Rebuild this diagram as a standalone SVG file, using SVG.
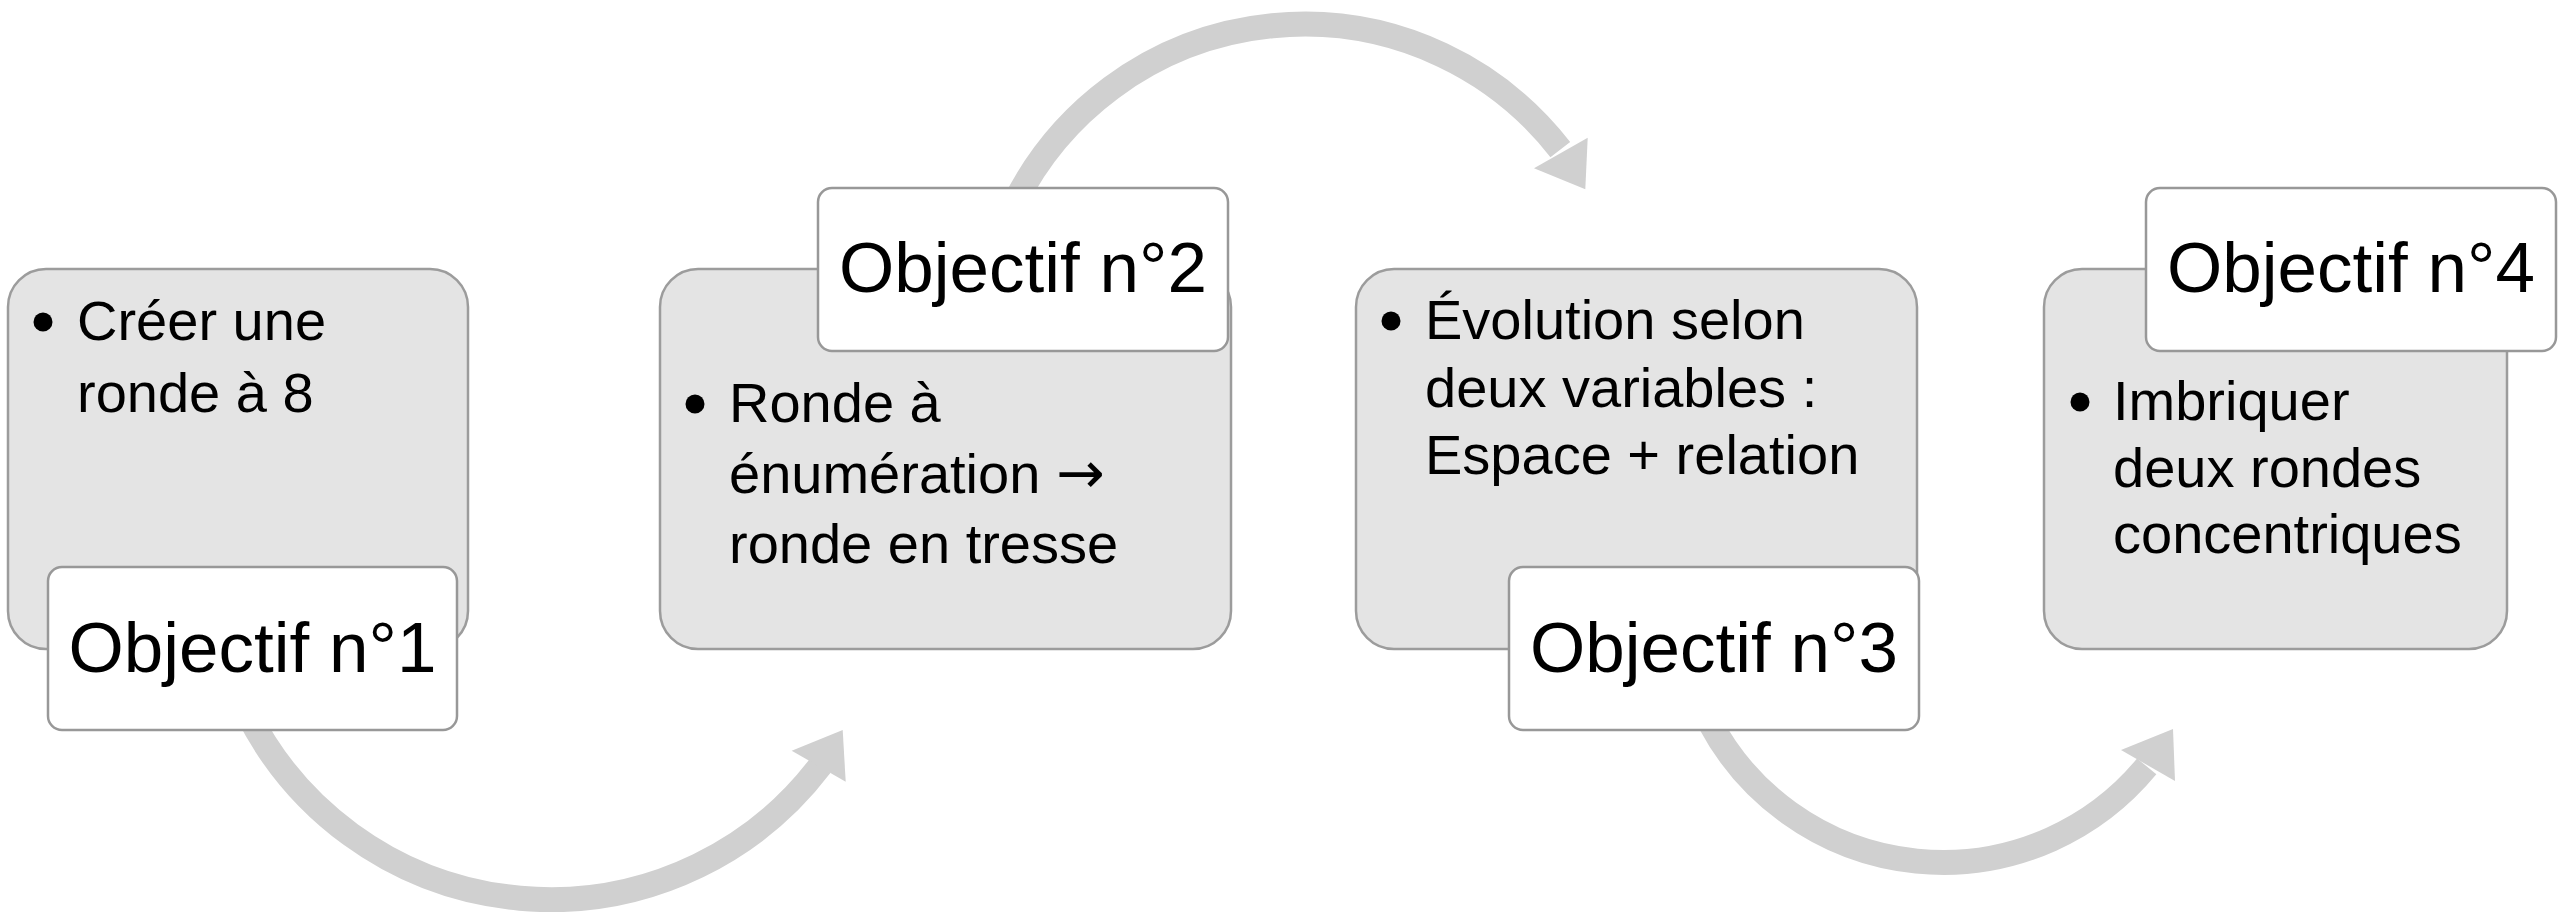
<svg xmlns="http://www.w3.org/2000/svg" width="2560" height="912" viewBox="0 0 2560 912">
<style>
.box{fill:#e4e4e4;stroke:#9c9c9c;stroke-width:2.5}
.lbl{fill:#ffffff;stroke:#989898;stroke-width:2.5}
.body{font-family:"Liberation Sans",Arial,sans-serif;font-size:56px;fill:#000}
.arr{font-family:"DejaVu Sans",sans-serif;font-size:58px}
.title{font-family:"Liberation Sans",Arial,sans-serif;font-size:71px;fill:#000;text-anchor:middle}
.bul{fill:#000}
.arc{fill:none;stroke:#d0d0d0;stroke-width:25;stroke-linecap:butt}
.head{fill:#d0d0d0}
</style>
<rect width="2560" height="912" fill="#ffffff"/>
<g id="connectors">
  <path class="arc" d="M 248.0 713.9 A 339 339 0 0 0 820.6 765.3"/>
  <polygon class="head" points="791.7,750.7 842.7,730 845.7,781.7"/>
  <path class="arc" d="M 1014.3 203.6 A 324 324 0 0 1 1560.3 149.6"/>
  <polygon class="head" points="1587.7,137.7 1585.3,189.3 1534,168.3"/>
  <path class="arc" d="M 1709.9 722.4 A 264 264 0 0 0 2146.7 766.4"/>
  <polygon class="head" points="2121,750 2173,729 2175,781"/>
</g>
<g id="node1">
  <rect class="box" x="8" y="269" width="460" height="380" rx="38"/>
  <circle class="bul" cx="43" cy="322" r="9.5"/>
  <text class="body" x="77" y="340">Créer une</text>
  <text class="body" x="77" y="412">ronde à 8</text>
  <rect class="lbl" x="48" y="567" width="409" height="163" rx="14"/>
  <text class="title" x="252.5" y="672">Objectif n°1</text>
</g>
<g id="node2">
  <rect class="box" x="660" y="269" width="571" height="380" rx="38"/>
  <circle class="bul" cx="695" cy="404" r="9.5"/>
  <text class="body" x="729" y="422">Ronde à</text>
  <text class="body" x="729" y="493">énumération <tspan class="arr">→</tspan></text>
  <text class="body" x="729" y="563">ronde en tresse</text>
  <rect class="lbl" x="818" y="188" width="410" height="163" rx="14"/>
  <text class="title" x="1023" y="292">Objectif n°2</text>
</g>
<g id="node3">
  <rect class="box" x="1356" y="269" width="561" height="380" rx="38"/>
  <circle class="bul" cx="1391" cy="321" r="9.5"/>
  <text class="body" x="1425" y="339">Évolution selon</text>
  <text class="body" x="1425" y="407">deux variables :</text>
  <text class="body" x="1425" y="474">Espace + relation</text>
  <rect class="lbl" x="1509" y="567" width="410" height="163" rx="14"/>
  <text class="title" x="1714" y="672">Objectif n°3</text>
</g>
<g id="node4">
  <rect class="box" x="2044" y="269" width="463" height="380" rx="38"/>
  <circle class="bul" cx="2080" cy="402" r="9.5"/>
  <text class="body" x="2113" y="420">Imbriquer</text>
  <text class="body" x="2113" y="487">deux rondes</text>
  <text class="body" x="2113" y="553">concentriques</text>
  <rect class="lbl" x="2146" y="188" width="410" height="163" rx="14"/>
  <text class="title" x="2351" y="292">Objectif n°4</text>
</g>
</svg>
